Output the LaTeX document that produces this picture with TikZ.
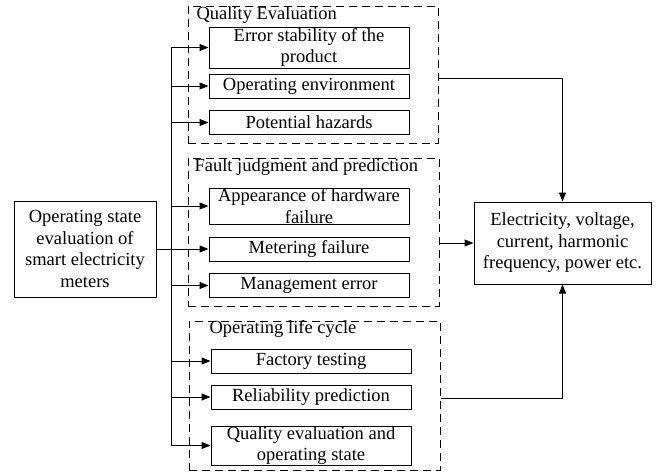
\documentclass[tikz,border=0pt]{standalone}
\usepackage{fontspec}
\setmainfont{Liberation Serif}
\usetikzlibrary{arrows.meta}

\begin{document}
\begin{tikzpicture}[x=1pt, y=-1pt, every node/.style={font=\fontsize{18.5}{21.5}\selectfont},
	>={Triangle[length=9pt, width=7pt]}, line width=1pt,
	item/.style={draw, minimum width=200pt, minimum height=24pt, inner sep=0pt, align=center},
	group/.style={draw, dash pattern=on 8pt off 5pt, inner sep=0pt},
	title/.style={anchor=west, inner sep=0pt}]
	\useasboundingbox (0,0) rectangle (660,472);
	\node[group, minimum width=250pt, minimum height=137pt] (g1) at (313,74.5) {};
	\node[group, minimum width=251pt, minimum height=148pt] (g2) at (313.5,232) {};
	\node[group, minimum width=251pt, minimum height=149pt] (g3) at (314.5,395.5) {};
	\node[title] (t1) at (196,15) {Quality Evaluation};
	\node[title] (t2) at (194,167) {Fault judgment and prediction};
	\node[title] (t3) at (209,329) {Operating life cycle};
	\node[item, minimum height=41pt] (q1) at (309,47.5) {Error stability of the\\product};
	\node[item] (q2) at (309,86) {Operating environment};
	\node[item] (q3) at (309,122.5) {Potential hazards};
	\node[item, minimum height=36pt] (f1) at (309,206) {Appearance of hardware\\failure};
	\node[item] (f2) at (309,249) {Metering failure};
	\node[item] (f3) at (309,285.5) {Management error};
	\node[item] (o1) at (311,361) {Factory testing};
	\node[item] (o2) at (311,397) {Reliability prediction};
	\node[item, minimum height=39pt] (o3) at (311,445.5) {Quality evaluation and\\operating state};
	\node[draw, minimum width=142pt, minimum height=96pt, align=center, inner sep=0pt] (src) at (85,249)
		{Operating state\\evaluation of\\smart electricity\\meters};
	\node[draw, minimum width=177pt, minimum height=82pt, align=center, inner sep=0pt] (dst) at (562.5,243)
		{Electricity, voltage,\\current, harmonic\\frequency, power etc.};
	\coordinate (bus) at (171,0);
	\draw (bus |- q1.west) -- (bus |- o3.west);
	\foreach \n in {q1,q2,q3,f1,f3,o1,o2,o3}
		\draw[->] (bus |- \n.west) -- (\n.west);
	\draw[->] (src.east) -- (f2.west);
	\coordinate (h1) at (0,78);
	\coordinate (h3) at (0,398);
	\draw[->] (g1.east |- h1) -| (dst.north);
	\draw[->] (g2.east |- dst.west) -- (dst.west);
	\draw[->] (g3.east |- h3) -| (dst.south);
\end{tikzpicture}
\end{document}
